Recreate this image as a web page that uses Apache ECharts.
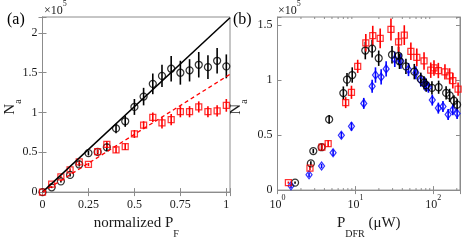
<!DOCTYPE html>
<html><head><meta charset="utf-8">
<script src="https://cdn.jsdelivr.net/npm/echarts@6/dist/echarts.min.js"></script>
<style>html,body{margin:0;padding:0;background:#fff}#c{width:463px;height:244px}</style>
</head><body><div id="c"></div>
<script>
// ---------- Panel (a) data (values in units of 1e5) ----------
const aX = [0,0.05,0.1,0.15,0.2,0.25,0.3,0.35,0.4,0.45,0.5,0.55,0.6,0.65,0.7,0.75,0.8,0.85,0.9,0.95,1.0];
const aBlackY = [0,0.06,0.135,0.216,0.347,0.49,0.505,0.563,0.80,0.89,1.07,1.20,1.36,1.46,1.55,1.50,1.53,1.60,1.57,1.65,1.58];
const aBlackErr = [0,0.01,0.015,0.02,0.025,0.03,0.03,0.05,0.06,0.07,0.1,0.11,0.13,0.14,0.16,0.15,0.14,0.16,0.15,0.16,0.15];
const aRedY = [0,0.10,0.19,0.28,0.38,0.347,0.51,0.60,0.53,0.57,0.73,0.84,0.94,0.87,0.91,1.01,1.01,1.07,1.01,1.02,1.09];
const aRedErr = [0,0.01,0.015,0.02,0.02,0.02,0.025,0.04,0.04,0.04,0.05,0.05,0.06,0.07,0.07,0.07,0.07,0.07,0.07,0.07,0.08];
const aFitBlack = [[0,0],[1.02,2.19]];
const aFitRed = [[0,0],[1.02,1.48]];
const aXTicks = [0,0.25,0.5,0.75,1];

// ---------- Panel (b) data ----------
const bBlackX = [1.68,2.68,2.88,3.68,4.6,7.0,7.8,9.1,13.4,16.4,19.9,29.5,35.8,36.8,44.5,57,69,76,81,96,117,146,162,184,202];
const bBlackY = [0.068,0.243,0.355,0.39,0.643,0.883,1.005,1.047,1.27,1.287,1.2,1.232,1.222,1.172,1.126,1.078,1.009,0.975,0.955,0.93,0.936,0.884,0.862,0.813,0.777];
const bBlackErr = [0.01,0.02,0.02,0.03,0.04,0.06,0.06,0.07,0.08,0.08,0.07,0.08,0.08,0.07,0.07,0.07,0.06,0.06,0.06,0.06,0.06,0.06,0.06,0.05,0.05];
const bRedX = [1.38,2.61,3.72,4.47,7.5,8.9,10.7,13.6,16.7,20.8,28.6,35.8,42.4,51.5,61.4,76,92.7,102,116,141,162,178,208];
const bRedY = [0.068,0.2,0.39,0.424,0.796,0.89,1.126,1.34,1.405,1.38,1.462,1.348,1.41,1.263,1.208,1.175,1.091,1.111,1.088,1.076,1.039,0.995,0.918];
const bRedErr = [0.01,0.02,0.02,0.03,0.05,0.06,0.06,0.08,0.09,0.09,0.1,0.09,0.09,0.08,0.08,0.08,0.07,0.07,0.07,0.07,0.07,0.07,0.06];
const bBlueX = [1.49,2.54,3.68,5.17,6.6,8.9,12.8,16.4,18.1,21.4,24.8,32,38.4,48,59.7,69,78.4,86.5,97,116,133,155,178,202];
const bBlueY = [0.039,0.14,0.219,0.34,0.5,0.58,0.789,0.945,1.047,1.03,1.103,1.19,1.175,1.097,1.068,1.0,0.965,0.936,0.819,0.746,0.76,0.688,0.73,0.697];
const bBlueErr = [0.02,0.02,0.02,0.03,0.03,0.04,0.05,0.06,0.07,0.07,0.07,0.07,0.07,0.06,0.06,0.06,0.06,0.05,0.05,0.05,0.05,0.05,0.05,0.05];
const bMinorTicks = [2,3,4,5,6,7,8,9,20,30,40,50,60,70,80,90,200];

const FONT = 'Liberation Serif';
const AX = '#8c8c8c';
const TXT = '#1a1a1a';
const A_XMAX = 1.02, A_YMAX = 2.2, B_XMIN = 1, B_XMAX = 220, B_YMAX = 1.575;

function zip3(xs, ys, es){ return xs.map((x,i)=>[x, ys[i], es[i]]); }
function zip2(xs, ys){ return xs.map((x,i)=>[x, ys[i]]); }

function errSeries(data, color, xi, yi){
  return {type:'custom', xAxisIndex:xi, yAxisIndex:yi, data:data, silent:true, clip:false,
    encode:{x:0,y:1},
    renderItem:function(params, api){
      const x=api.value(0), y=api.value(1), e=api.value(2);
      const p1=api.coord([x,y-e]), p2=api.coord([x,y+e]);
      return {type:'line', shape:{x1:p1[0],y1:p1[1],x2:p2[0],y2:p2[1]}, style:{stroke:color, lineWidth:1.6}};
    }};
}
function markSeries(data, symbol, size, color, xi, yi){
  return {type:'scatter', xAxisIndex:xi, yAxisIndex:yi, data:data, symbol:symbol, symbolSize:size, silent:true,
    itemStyle:{color:'rgba(0,0,0,0)', borderColor:color, borderWidth:1.25}};
}

const tickLbl = {fontFamily:FONT, fontSize:12, color:TXT};
const supRich = {b:{fontFamily:FONT, fontSize:12, lineHeight:17, verticalAlign:'bottom', color:TXT},
                 s:{fontFamily:FONT, fontSize:8, lineHeight:8, verticalAlign:'top', color:TXT}};
const subRichX = {m:{fontFamily:FONT, fontSize:15, lineHeight:15, verticalAlign:'top', color:TXT},
                  sub:{fontFamily:FONT, fontSize:10, lineHeight:23, verticalAlign:'bottom', color:TXT}};
const subRichY = {m:{fontFamily:FONT, fontSize:15, lineHeight:15, verticalAlign:'top', fill:TXT, color:TXT},
                  sub:{fontFamily:FONT, fontSize:10, lineHeight:21, verticalAlign:'bottom', fill:TXT, color:TXT}};
const supText = {b:{fontFamily:FONT, fontSize:12, lineHeight:17, verticalAlign:'bottom', fill:TXT, color:TXT},
                 s:{fontFamily:FONT, fontSize:8, lineHeight:8, verticalAlign:'top', fill:TXT, color:TXT}};

const grids = [
  {left:42.5, top:17, width:187.5, height:180, show:true, borderColor:AX, borderWidth:1, backgroundColor:'#fff'},
  {left:277.5, top:17, width:184.5, height:180, show:true, borderColor:AX, borderWidth:1, backgroundColor:'#fff'}
];

function axBase(extra){
  return Object.assign({axisLine:{show:true, lineStyle:{color:AX}}, axisTick:{show:true, inside:true, length:4, lineStyle:{color:AX}},
    splitLine:{show:false}}, extra);
}

const option = {
  animation:false,
  grid: grids,
  xAxis: [
    axBase({type:'value', gridIndex:0, min:0, max:A_XMAX, interval:0.25, position:'bottom',
     axisLabel:{...tickLbl, margin:7, formatter:(v)=> aXTicks.indexOf(v)>=0 ? String(v) : ''},
     name:'{m|normalized P}{sub|F}', nameLocation:'middle', nameGap:22,
     nameTextStyle:{rich:subRichX}}),
    axBase({type:'value', gridIndex:0, min:0, max:A_XMAX, interval:0.25, position:'top', axisLabel:{show:false}}),
    axBase({type:'log', gridIndex:1, min:B_XMIN, max:B_XMAX, logBase:10, position:'bottom',
     axisLabel:{margin:4, formatter:(v)=>{const e=Math.round(Math.log10(v)); return (Math.abs(Math.log10(v)-e)<1e-6)?('{b|10}{s|'+e+'}'):'';}, rich:supRich},
     name:'{m|P}{sub|DFR}{m| (μW)}', nameLocation:'middle', nameGap:23,
     nameTextStyle:{rich:subRichX}}),
    axBase({type:'log', gridIndex:1, min:B_XMIN, max:B_XMAX, logBase:10, position:'top', axisLabel:{show:false}})
  ],
  yAxis: [
    axBase({type:'value', gridIndex:0, min:0, max:A_YMAX, interval:0.5, position:'left',
     axisLabel:{...tickLbl, margin:5, formatter:(v)=> (Math.abs(v*2-Math.round(v*2))<1e-6) ? String(v) : ''}}),
    axBase({type:'value', gridIndex:0, min:0, max:A_YMAX, interval:0.5, position:'right', axisLabel:{show:false}}),
    axBase({type:'value', gridIndex:1, min:0, max:B_YMAX, interval:0.5, position:'left',
     axisLabel:{...tickLbl, margin:5, formatter:(v)=> (Math.abs(v*2-Math.round(v*2))<1e-6) ? String(v) : ''}}),
    axBase({type:'value', gridIndex:1, min:0, max:B_YMAX, interval:0.5, position:'right', axisLabel:{show:false}})
  ],
  series: [
    {type:'line', xAxisIndex:0, yAxisIndex:0, data:aFitBlack, symbol:'none', silent:true,
     lineStyle:{color:'#000', width:1.5}},
    {type:'line', xAxisIndex:0, yAxisIndex:0, data:aFitRed, symbol:'none', silent:true,
     lineStyle:{color:'#ff0000', width:1.3, type:[4,3]}},
    errSeries(zip3(aX,aBlackY,aBlackErr), '#000', 0, 0),
    markSeries(zip2(aX,aBlackY), 'circle', 7, '#000', 0, 0),
    errSeries(zip3(aX,aRedY,aRedErr), '#ff0000', 0, 0),
    markSeries(zip2(aX,aRedY), 'rect', 6, '#ff0000', 0, 0),

    {type:'custom', xAxisIndex:2, yAxisIndex:2, data:bMinorTicks.map(v=>[v]), silent:true, encode:{x:0},
     renderItem:function(params, api){
       const v=api.value(0);
       const b=api.coord([v,0]), t=api.coord([v,B_YMAX]);
       return {type:'group', children:[
         {type:'line', shape:{x1:b[0],y1:b[1],x2:b[0],y2:b[1]-2}, style:{stroke:AX, lineWidth:1}},
         {type:'line', shape:{x1:t[0],y1:t[1],x2:t[0],y2:t[1]+2}, style:{stroke:AX, lineWidth:1}}
       ]};
     }},
    errSeries(zip3(bBlueX,bBlueY,bBlueErr), '#0000ff', 2, 2),
    markSeries(zip2(bBlueX,bBlueY), 'diamond', [6,8], '#0000ff', 2, 2),
    errSeries(zip3(bBlackX,bBlackY,bBlackErr), '#000', 2, 2),
    markSeries(zip2(bBlackX,bBlackY), 'circle', 7, '#000', 2, 2),
    errSeries(zip3(bRedX,bRedY,bRedErr), '#ff0000', 2, 2),
    markSeries(zip2(bRedX,bRedY), 'rect', 6, '#ff0000', 2, 2)
  ],
  graphic: [
    {type:'text', left:7, top:12, z:10, style:{text:'(a)', fontFamily:FONT, fontSize:16, fill:'#000'}},
    {type:'text', left:233, top:12, z:10, style:{text:'(b)', fontFamily:FONT, fontSize:16, fill:'#000'}},
    {type:'text', left:44, top:0, z:10, style:{text:'{b|×10}{s|5}', rich:supText}},
    {type:'text', left:278, top:0, z:10, style:{text:'{b|×10}{s|5}', rich:supText}},
    {type:'text', x:2.5, y:107, rotation:Math.PI/2, z:10,
     style:{text:'{m|N}{sub|a}', rich:subRichY, align:'center', verticalAlign:'top'}},
    {type:'text', x:228.5, y:107, rotation:Math.PI/2, z:10,
     style:{text:'{m|N}{sub|a}', rich:subRichY, align:'center', verticalAlign:'top'}}
  ]
};

const chart = echarts.init(document.getElementById('c'), null, {renderer:'canvas'});
chart.setOption(option);
</script>
</body></html>
